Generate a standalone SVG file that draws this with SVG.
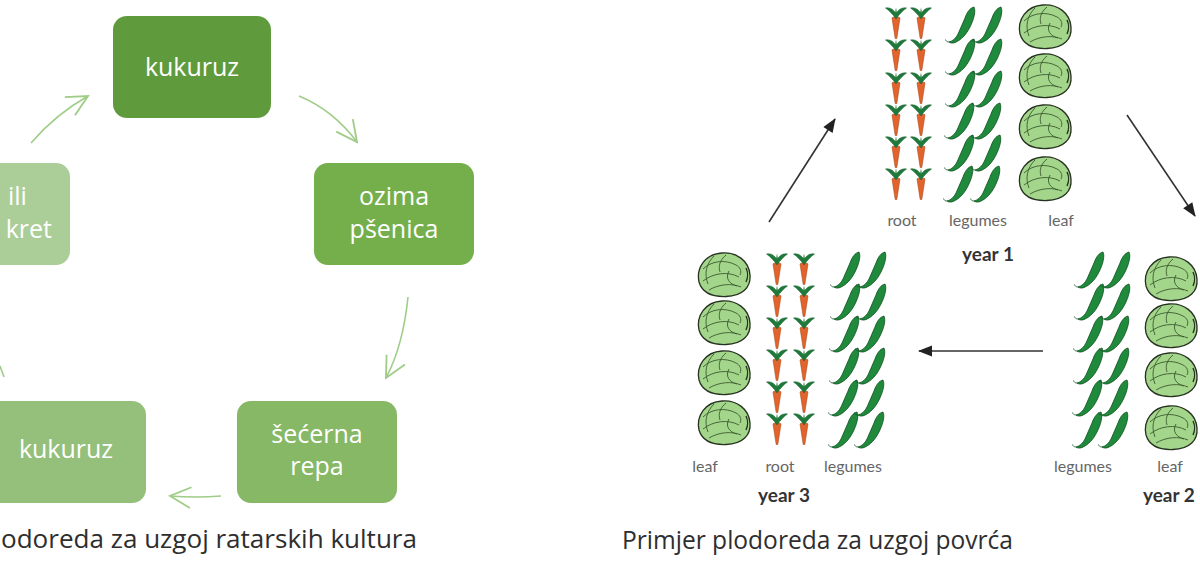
<svg xmlns="http://www.w3.org/2000/svg" width="1200" height="565" viewBox="0 0 1200 565">
<style>
.box{stroke:none}
.bt{font-family:"Open Sans","Noto Sans",sans-serif;font-size:25px;fill:#ffffff;text-anchor:middle}
.cap{font-family:"Open Sans","Noto Sans",sans-serif;font-size:25px;fill:#2e2e2e}
.lbl{font-family:Lato,"Open Sans",sans-serif;font-size:16px;fill:#666666;text-anchor:middle}
.yr{font-family:Lato,"Open Sans",sans-serif;font-size:19px;font-weight:bold;fill:#333333;text-anchor:middle}
.ga{fill:none;stroke:#9fcd88;stroke-width:1.6;marker-end:url(#gh)}
.ka{fill:none;stroke:#333333;stroke-width:1.6;marker-end:url(#kh)}
.vein{fill:none;stroke:#3b5a30;stroke-width:0.9}
</style>
<defs>
<marker id="gh" markerUnits="userSpaceOnUse" markerWidth="30" markerHeight="30" refX="0" refY="0" viewBox="-22 -12 26 24" orient="auto">
<path d="M-18,-9 L0,0 L-18,9" fill="none" stroke="#9fcd88" stroke-width="1.6"/>
</marker>
<marker id="kh" markerUnits="userSpaceOnUse" markerWidth="16" markerHeight="16" refX="0" refY="0" viewBox="-14 -7 16 14" orient="auto">
<path d="M-13,-5.5 L1,0 L-13,5.5 Z" fill="#222222"/>
</marker>
<g id="carrot">
<path d="M-4,11 C-4,9.6 4,9.6 4,11 L0.8,31.5 L-0.8,31.5 Z" fill="#e2642c" stroke="#b04a1e" stroke-width="0.6"/>
<path d="M0,12 C-3,7.5 -6.5,4 -10.5,1 C-6,0 -2.5,2.5 0,6.5 C2.5,2.5 6,0 10.5,1 C6.5,4 3,7.5 0,12 Z" fill="#1f7a3a" stroke="#176030" stroke-width="0.5"/>
<path d="M-1.6,10 L0,0.5 L1.6,10 Z" fill="#1f7a3a"/>
</g>
<g id="pod">
<path d="M0,35 C4,34 7,31 9,27 L16,11 C18,5 21,1 25,0 C27,4 25,12 21,20 C17,28 12,33 6,35.5 C4,36.5 1,36 0,35 Z" fill="#1f8a3c" stroke="#0e4f20" stroke-width="0.8"/>
<path d="M0,35 C-2,35 -3,34 -3.5,32.5" fill="none" stroke="#0e4f20" stroke-width="0.8"/>
</g>
<g id="cab">
<path d="M-25,8 C-28,-6 -19,-20 -2,-21 C13,-22 25,-13 26,1 C27,13 19,22 2,22.5 C-12,23 -22,18 -25,8 Z" fill="#a3d68b" stroke="#26321f" stroke-width="1.3"/>
<path class="vein" d="M-21,-5 C-13,-13 1,-15 12,-9 C16,-7 18,-3 16,1"/>
<path class="vein" d="M-21,7 C-11,-1 4,-3 15,3"/>
<path class="vein" d="M-15,16 C-5,10 8,9 17,13"/>
<path class="vein" d="M5,-3 C1,4 5,10 13,12"/>
<path class="vein" d="M-10,-18 C-18,-10 -20,0 -16,10"/>
<path class="vein" d="M2,-19 C-4,-14 -6,-8 -4,-2"/>
<path d="M22,-6 C24,-2 24,4 22,8" fill="none" stroke="#26321f" stroke-width="1.4"/>
</g>
</defs>

<g id="n-kukuruz-top">
<rect class="box" x="113" y="16" width="158" height="102" rx="14" fill="#5f9b3d"/>
<text class="bt" x="192" y="76">kukuruz</text>
</g>
<g id="n-ozima">
<rect class="box" x="314" y="163" width="160" height="102" rx="14" fill="#74af4c"/>
<text class="bt" x="394" y="205">ozima</text>
<text class="bt" x="394" y="238">pšenica</text>
</g>
<g id="n-secerna">
<rect class="box" x="237" y="401" width="160" height="102" rx="14" fill="#86b865"/>
<text class="bt" x="317" y="443">šećerna</text>
<text class="bt" x="317" y="475">repa</text>
</g>
<g id="n-kukuruz-bottom">
<rect class="box" x="-14" y="401" width="160" height="102" rx="14" fill="#95c07b"/>
<text class="bt" x="66" y="458">kukuruz</text>
</g>
<g id="n-ili">
<rect class="box" x="-90" y="163" width="160" height="102" rx="14" fill="#abcd97"/>
<text class="bt" x="8" y="205" style="text-anchor:start">ili</text>
<text class="bt" x="52" y="238" style="text-anchor:end">kret</text>
</g>

<g id="connectors-left">
<path class="ga" d="M31,143 Q56,114 88,96"/>
<path class="ga" d="M299,96 Q333,110 357,142"/>
<path class="ga" d="M408,297 Q403,346 386,378"/>
<path class="ga" d="M221,496 Q196,498 170,496"/>
<path d="M0,366 L4,377" fill="none" stroke="#9fcd88" stroke-width="1.6"/>
</g>

<text class="cap" x="1" y="548" textLength="416" lengthAdjust="spacingAndGlyphs">odoreda za uzgoj ratarskih kultura</text>

<g id="year1">
<use href="#carrot" x="896" y="7"/><use href="#carrot" x="896" y="39"/><use href="#carrot" x="896" y="72"/><use href="#carrot" x="896" y="104"/><use href="#carrot" x="896" y="136"/><use href="#carrot" x="896" y="168"/>
<use href="#carrot" x="921" y="7"/><use href="#carrot" x="921" y="39"/><use href="#carrot" x="921" y="72"/><use href="#carrot" x="921" y="104"/><use href="#carrot" x="921" y="136"/><use href="#carrot" x="921" y="168"/>
<use href="#pod" x="949" y="7"/><use href="#pod" x="949" y="39"/><use href="#pod" x="949" y="71"/><use href="#pod" x="948" y="103"/><use href="#pod" x="948" y="135"/><use href="#pod" x="947" y="166"/>
<use href="#pod" x="976" y="7"/><use href="#pod" x="976" y="39"/><use href="#pod" x="976" y="71"/><use href="#pod" x="975" y="103"/><use href="#pod" x="975" y="135"/><use href="#pod" x="974" y="166"/>
<use href="#cab" x="1045" y="26"/><use href="#cab" x="1045" y="75"/><use href="#cab" x="1045" y="126"/><use href="#cab" x="1045" y="178"/>
<text class="lbl" x="902" y="226">root</text>
<text class="lbl" x="978" y="226">legumes</text>
<text class="lbl" x="1061" y="226">leaf</text>
<text class="yr" x="988" y="261">year 1</text>
</g>

<g id="year3">
<use href="#cab" x="724" y="274"/><use href="#cab" x="724" y="322"/><use href="#cab" x="724" y="372"/><use href="#cab" x="724" y="422"/>
<use href="#carrot" x="777" y="253"/><use href="#carrot" x="777" y="285"/><use href="#carrot" x="777" y="317"/><use href="#carrot" x="777" y="349"/><use href="#carrot" x="777" y="381"/><use href="#carrot" x="777" y="413"/>
<use href="#carrot" x="804" y="253"/><use href="#carrot" x="804" y="285"/><use href="#carrot" x="804" y="317"/><use href="#carrot" x="804" y="349"/><use href="#carrot" x="804" y="381"/><use href="#carrot" x="804" y="413"/>
<use href="#pod" x="834" y="252"/><use href="#pod" x="834" y="284"/><use href="#pod" x="833" y="316"/><use href="#pod" x="833" y="348"/><use href="#pod" x="832" y="380"/><use href="#pod" x="832" y="412"/>
<use href="#pod" x="860" y="252"/><use href="#pod" x="860" y="284"/><use href="#pod" x="859" y="316"/><use href="#pod" x="859" y="348"/><use href="#pod" x="858" y="380"/><use href="#pod" x="858" y="412"/>
<text class="lbl" x="705" y="472">leaf</text>
<text class="lbl" x="780" y="472">root</text>
<text class="lbl" x="853" y="472">legumes</text>
<text class="yr" x="784" y="502">year 3</text>
</g>

<g id="year2">
<use href="#pod" x="1078" y="252"/><use href="#pod" x="1078" y="284"/><use href="#pod" x="1077" y="316"/><use href="#pod" x="1077" y="348"/><use href="#pod" x="1076" y="380"/><use href="#pod" x="1076" y="412"/>
<use href="#pod" x="1104" y="252"/><use href="#pod" x="1104" y="284"/><use href="#pod" x="1103" y="316"/><use href="#pod" x="1103" y="348"/><use href="#pod" x="1102" y="380"/><use href="#pod" x="1102" y="412"/>
<use href="#cab" x="1171" y="278"/><use href="#cab" x="1171" y="325"/><use href="#cab" x="1171" y="374"/><use href="#cab" x="1171" y="427"/>
<text class="lbl" x="1083" y="472">legumes</text>
<text class="lbl" x="1170" y="472">leaf</text>
<text class="yr" x="1143" y="502" style="text-anchor:start">year 2</text>
</g>

<g id="connectors-right">
<path class="ka" d="M769,222 L835,119"/>
<path class="ka" d="M1127,115 L1195,216"/>
<path class="ka" d="M1043,351 L919,351"/>
</g>

<text class="cap" x="622" y="549" textLength="391" lengthAdjust="spacingAndGlyphs">Primjer plodoreda za uzgoj povrća</text>
</svg>
